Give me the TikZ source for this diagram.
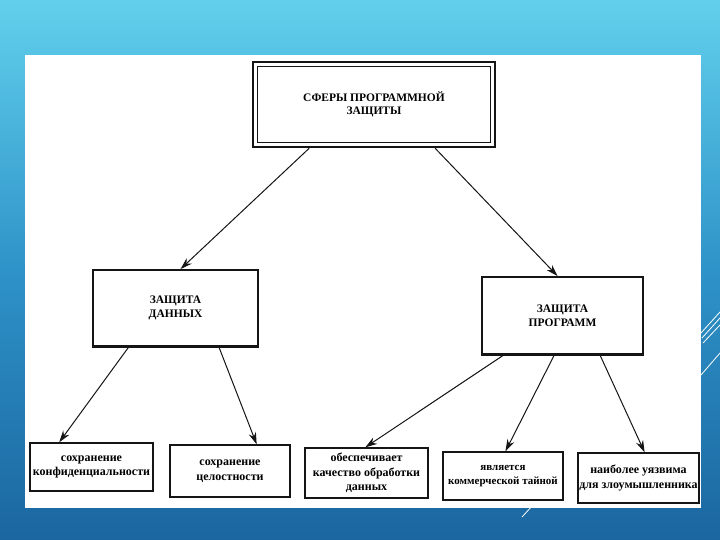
\documentclass[tikz,border=0pt]{standalone}
\usepackage{fontspec}
\setmainfont{Liberation Serif}
\usetikzlibrary{arrows.meta,calc}
\definecolor{INK}{HTML}{151515}
\definecolor{SKYTOP}{HTML}{62D0EC}
\definecolor{SKYMID}{HTML}{2E93C8}
\definecolor{SKYBOT}{HTML}{1B66A0}
\begin{document}
\begin{tikzpicture}[x=1pt,y=-1pt]
\tikzset{arr/.style={-{Stealth[length=12pt,width=7.5pt]},line width=1pt,INK},
 bigbox/.style={draw=INK,line width=1.8pt,fill=white,align=center,inner sep=0pt,font=\bfseries\fontsize{11.5}{13.5}\selectfont},
 smallbox/.style={draw=INK,line width=1.3pt,fill=white,align=center,inner sep=0pt,font=\bfseries\fontsize{12}{14.5}\selectfont},
 deco/.style={white,line width=0.8pt}}
\useasboundingbox (0,0) rectangle (720,540);
\shade[top color=SKYTOP,bottom color=SKYBOT,middle color=SKYMID] (0,0) rectangle (720,540);
\fill[white] (25,55) rectangle (701,508);
% top level
\node[bigbox,line width=2.5pt,minimum width=242pt,minimum height=85pt] (sf) at (374,104.5) {СФЕРЫ ПРОГРАММНОЙ\\ЗАЩИТЫ};
\draw[INK,line width=0.8pt] ($(sf.north west)+(6,6)$) rectangle ($(sf.south east)+(-6,-6)$);
% second level
\node[bigbox,minimum width=165pt,minimum height=76pt] (zd) at (175.5,308) {ЗАЩИТА\\ДАННЫХ};
\node[bigbox,minimum width=161pt,minimum height=77pt] (zp) at (562.5,315.5) {ЗАЩИТА\\ПРОГРАММ};
\draw[INK,line width=3pt] (zd.south west) -- (zd.south east);
\draw[INK,line width=3pt] (zp.south west) -- (zp.south east);
% third level
\node[smallbox,minimum width=123pt,minimum height=48pt] (b1) at (91.5,467) {сохранение\\конфиденциальности};
\node[smallbox,minimum width=120pt,minimum height=52pt] (b2) at (230,471) {сохранение\\целостности};
\node[smallbox,minimum width=123pt,minimum height=50pt] (b3) at (366.5,473) {обеспечивает\\качество обработки\\данных};
\node[smallbox,minimum width=120pt,minimum height=48pt,font=\bfseries\fontsize{11}{14.5}\selectfont] (b4) at (503,476) {является\\коммерческой тайной};
\node[smallbox,minimum width=121pt,minimum height=50pt] (b5) at (638.5,478) {наиболее уязвима\\для злоумышленника};
% arrows
\draw[arr] ($(sf.south west)!.235!(sf.south east)$) -- ($(zd.north west)!.53!(zd.north east)$);
\draw[arr] ($(sf.south west)!.75!(sf.south east)$) -- ($(zp.north west)!.47!(zp.north east)$);
\draw[arr] ($(zd.south west)!.22!(zd.south east)$) -- ($(b1.north west)!.24!(b1.north east)$);
\draw[arr] ($(zd.south west)!.76!(zd.south east)$) -- ($(b2.north west)!.72!(b2.north east)$);
\draw[arr] ($(zp.south west)!.14!(zp.south east)$) -- ($(b3.north west)!.49!(b3.north east)$);
\draw[arr] ($(zp.south west)!.45!(zp.south east)$) -- ($(b4.north west)!.52!(b4.north east)$);
\draw[arr] ($(zp.south west)!.73!(zp.south east)$) -- ($(b5.north west)!.55!(b5.north east)$);
% decoration
\draw[deco] (701,333) -- (720,312);
\draw[deco] (702,338) -- (720,318);
\draw[deco] (703,343) -- (720,325);
\draw[deco] (701,375) -- (720,353);
\draw[deco] (522,517) -- (533,505);
\end{tikzpicture}
\end{document}
